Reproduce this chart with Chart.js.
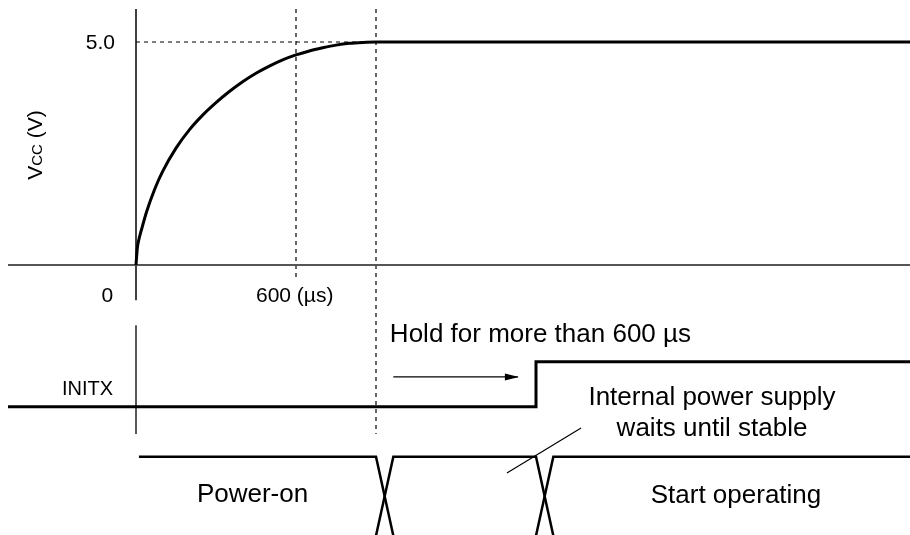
<!DOCTYPE html>
<html>
<head>
<meta charset="utf-8">
<script src="https://cdn.jsdelivr.net/npm/chart.js@4"></script>
<style>
  html, body { margin: 0; padding: 0; background: #fff; }
  canvas { display: block; }
</style>
</head>
<body>
<canvas id="c" width="910" height="535"></canvas>
<script>
// Vcc rise after power-on (time in µs, voltage in V)
const riseTimes = [0, 5, 10, 20, 40, 70, 100, 150, 200, 250, 300, 350, 400, 450, 500, 550, 600, 650, 700, 750, 800, 850, 900, 2910];
const riseVolts = [0, 0.38, 0.55, 0.78, 1.2, 1.7, 2.1, 2.62, 3.03, 3.36, 3.64, 3.89, 4.11, 4.3, 4.46, 4.6, 4.71, 4.8, 4.87, 4.93, 4.97, 4.99, 5.0, 5.0];

const vccMax = 5.0;        // V
const holdMark = 600;      // µs, labelled tick
const stableTime = 900;    // µs, Vcc settled
const initxRise = 1500;    // µs, INITX released
const crossWidth = 65;     // µs, width of the bus change marks
const tStart = -480, tEnd = 2910;

// rows of the lower part, in the same units as the Vcc axis
const initxLow = -3.18, initxHigh = -2.17;
const busTop = -4.30, busBottom = -6.07;
const arrowRow = -2.51;

const pts = (xs, ys) => xs.map((x, i) => ({ x, y: ys[i] }));

const solid = (data, width, color) => ({
  data, borderColor: color || '#000', borderWidth: width, pointRadius: 0, fill: false, tension: 0, clip: false
});
const dashed = (data) => Object.assign(solid(data, 1.2), { borderDash: [4, 4] });

const datasets = [
  Object.assign(solid(pts(riseTimes, riseVolts), 3), { cubicInterpolationMode: 'monotone' }),
  solid([{ x: tStart, y: 0 }, { x: tEnd, y: 0 }], 2, '#555'),
  solid([{ x: 0, y: 5.74 }, { x: 0, y: -0.79 }], 1.5),
  dashed([{ x: 0, y: vccMax }, { x: stableTime, y: vccMax }]),
  dashed([{ x: holdMark, y: 5.74 }, { x: holdMark, y: -0.29 }]),
  dashed([{ x: stableTime, y: 5.74 }, { x: stableTime, y: -3.79 }]),
  // INITX
  solid([{ x: 0, y: -1.35 }, { x: 0, y: -3.79 }], 1.3),
  solid([{ x: tStart, y: initxLow }, { x: initxRise, y: initxLow }, { x: initxRise, y: initxHigh }, { x: tEnd, y: initxHigh }], 3),
  solid([{ x: stableTime + crossWidth, y: arrowRow }, { x: initxRise - 68, y: arrowRow }], 1.3),
  // state bus
  solid([{ x: 11, y: busTop }, { x: stableTime, y: busTop }, { x: stableTime + crossWidth, y: busBottom }], 2.5),
  solid([{ x: stableTime, y: busBottom }, { x: stableTime + crossWidth, y: busTop }, { x: initxRise, y: busTop }, { x: initxRise + crossWidth, y: busBottom }], 2.5),
  solid([{ x: initxRise, y: busBottom }, { x: initxRise + crossWidth, y: busTop }, { x: tEnd, y: busTop }], 2.5),
  solid([{ x: 1669, y: -3.655 }, { x: 1391, y: -4.664 }], 1.2)
];

const FONT = '"Liberation Sans", Arial, Helvetica, sans-serif';

const labels = [
  { text: 'Hold for more than 600 µs', x: 952, y: -1.73, align: 'left', size: 26 },
  { text: 'Internal power supply', x: 2160, y: -3.14, align: 'center', size: 26 },
  { text: 'waits until stable', x: 2160, y: -3.83, align: 'center', size: 26 },
  { text: 'Power-on', x: 437, y: -5.31, align: 'center', size: 26 },
  { text: 'Start operating', x: 2250, y: -5.33, align: 'center', size: 26 },
  { text: 'INITX', x: -86, y: -2.92, align: 'right', size: 20 },
  { text: '5.0', x: -79, y: 4.84, align: 'right', size: 21 },
  { text: '0', x: -86, y: -0.83, align: 'right', size: 21 },
  { text: '600 (µs)', x: 450, y: -0.83, align: 'left', size: 21 }
];

const annotate = {
  id: 'annotate',
  afterDatasetsDraw(chart) {
    const { ctx, scales: { x, y } } = chart;
    ctx.save();
    ctx.fillStyle = '#000';
    ctx.textBaseline = 'alphabetic';
    labels.forEach(l => {
      ctx.font = l.size + 'px ' + FONT;
      ctx.textAlign = l.align;
      ctx.fillText(l.text, x.getPixelForValue(l.x), y.getPixelForValue(l.y));
    });

    // arrow head on the hold arrow
    const ax = x.getPixelForValue(initxRise - 68), ay = y.getPixelForValue(arrowRow);
    ctx.beginPath();
    ctx.moveTo(ax + 1, ay);
    ctx.lineTo(ax - 13, ay - 3.5);
    ctx.lineTo(ax - 13, ay + 3.5);
    ctx.closePath();
    ctx.fill();

    // axis title, V with small-cap CC
    ctx.translate(42, 145);
    ctx.rotate(-Math.PI / 2);
    const parts = [['V', 21], ['CC', 15], [' (V)', 21]];
    let total = 0;
    parts.forEach(p => { ctx.font = p[1] + 'px ' + FONT; total += ctx.measureText(p[0]).width; });
    let cx = -total / 2;
    ctx.textAlign = 'left';
    parts.forEach(p => {
      ctx.font = p[1] + 'px ' + FONT;
      ctx.fillText(p[0], cx, 0);
      cx += ctx.measureText(p[0]).width;
    });
    ctx.restore();
  }
};

new Chart(document.getElementById('c'), {
  type: 'line',
  data: { datasets },
  options: {
    responsive: false,
    animation: false,
    devicePixelRatio: 1,
    layout: { padding: 0 },
    events: [],
    plugins: { legend: { display: false }, tooltip: { enabled: false } },
    scales: {
      x: { type: 'linear', min: -510, max: 2902.5, display: false },
      y: { type: 'linear', min: -6.054, max: 5.942, display: false }
    }
  },
  plugins: [annotate]
});
</script>
</body>
</html>
